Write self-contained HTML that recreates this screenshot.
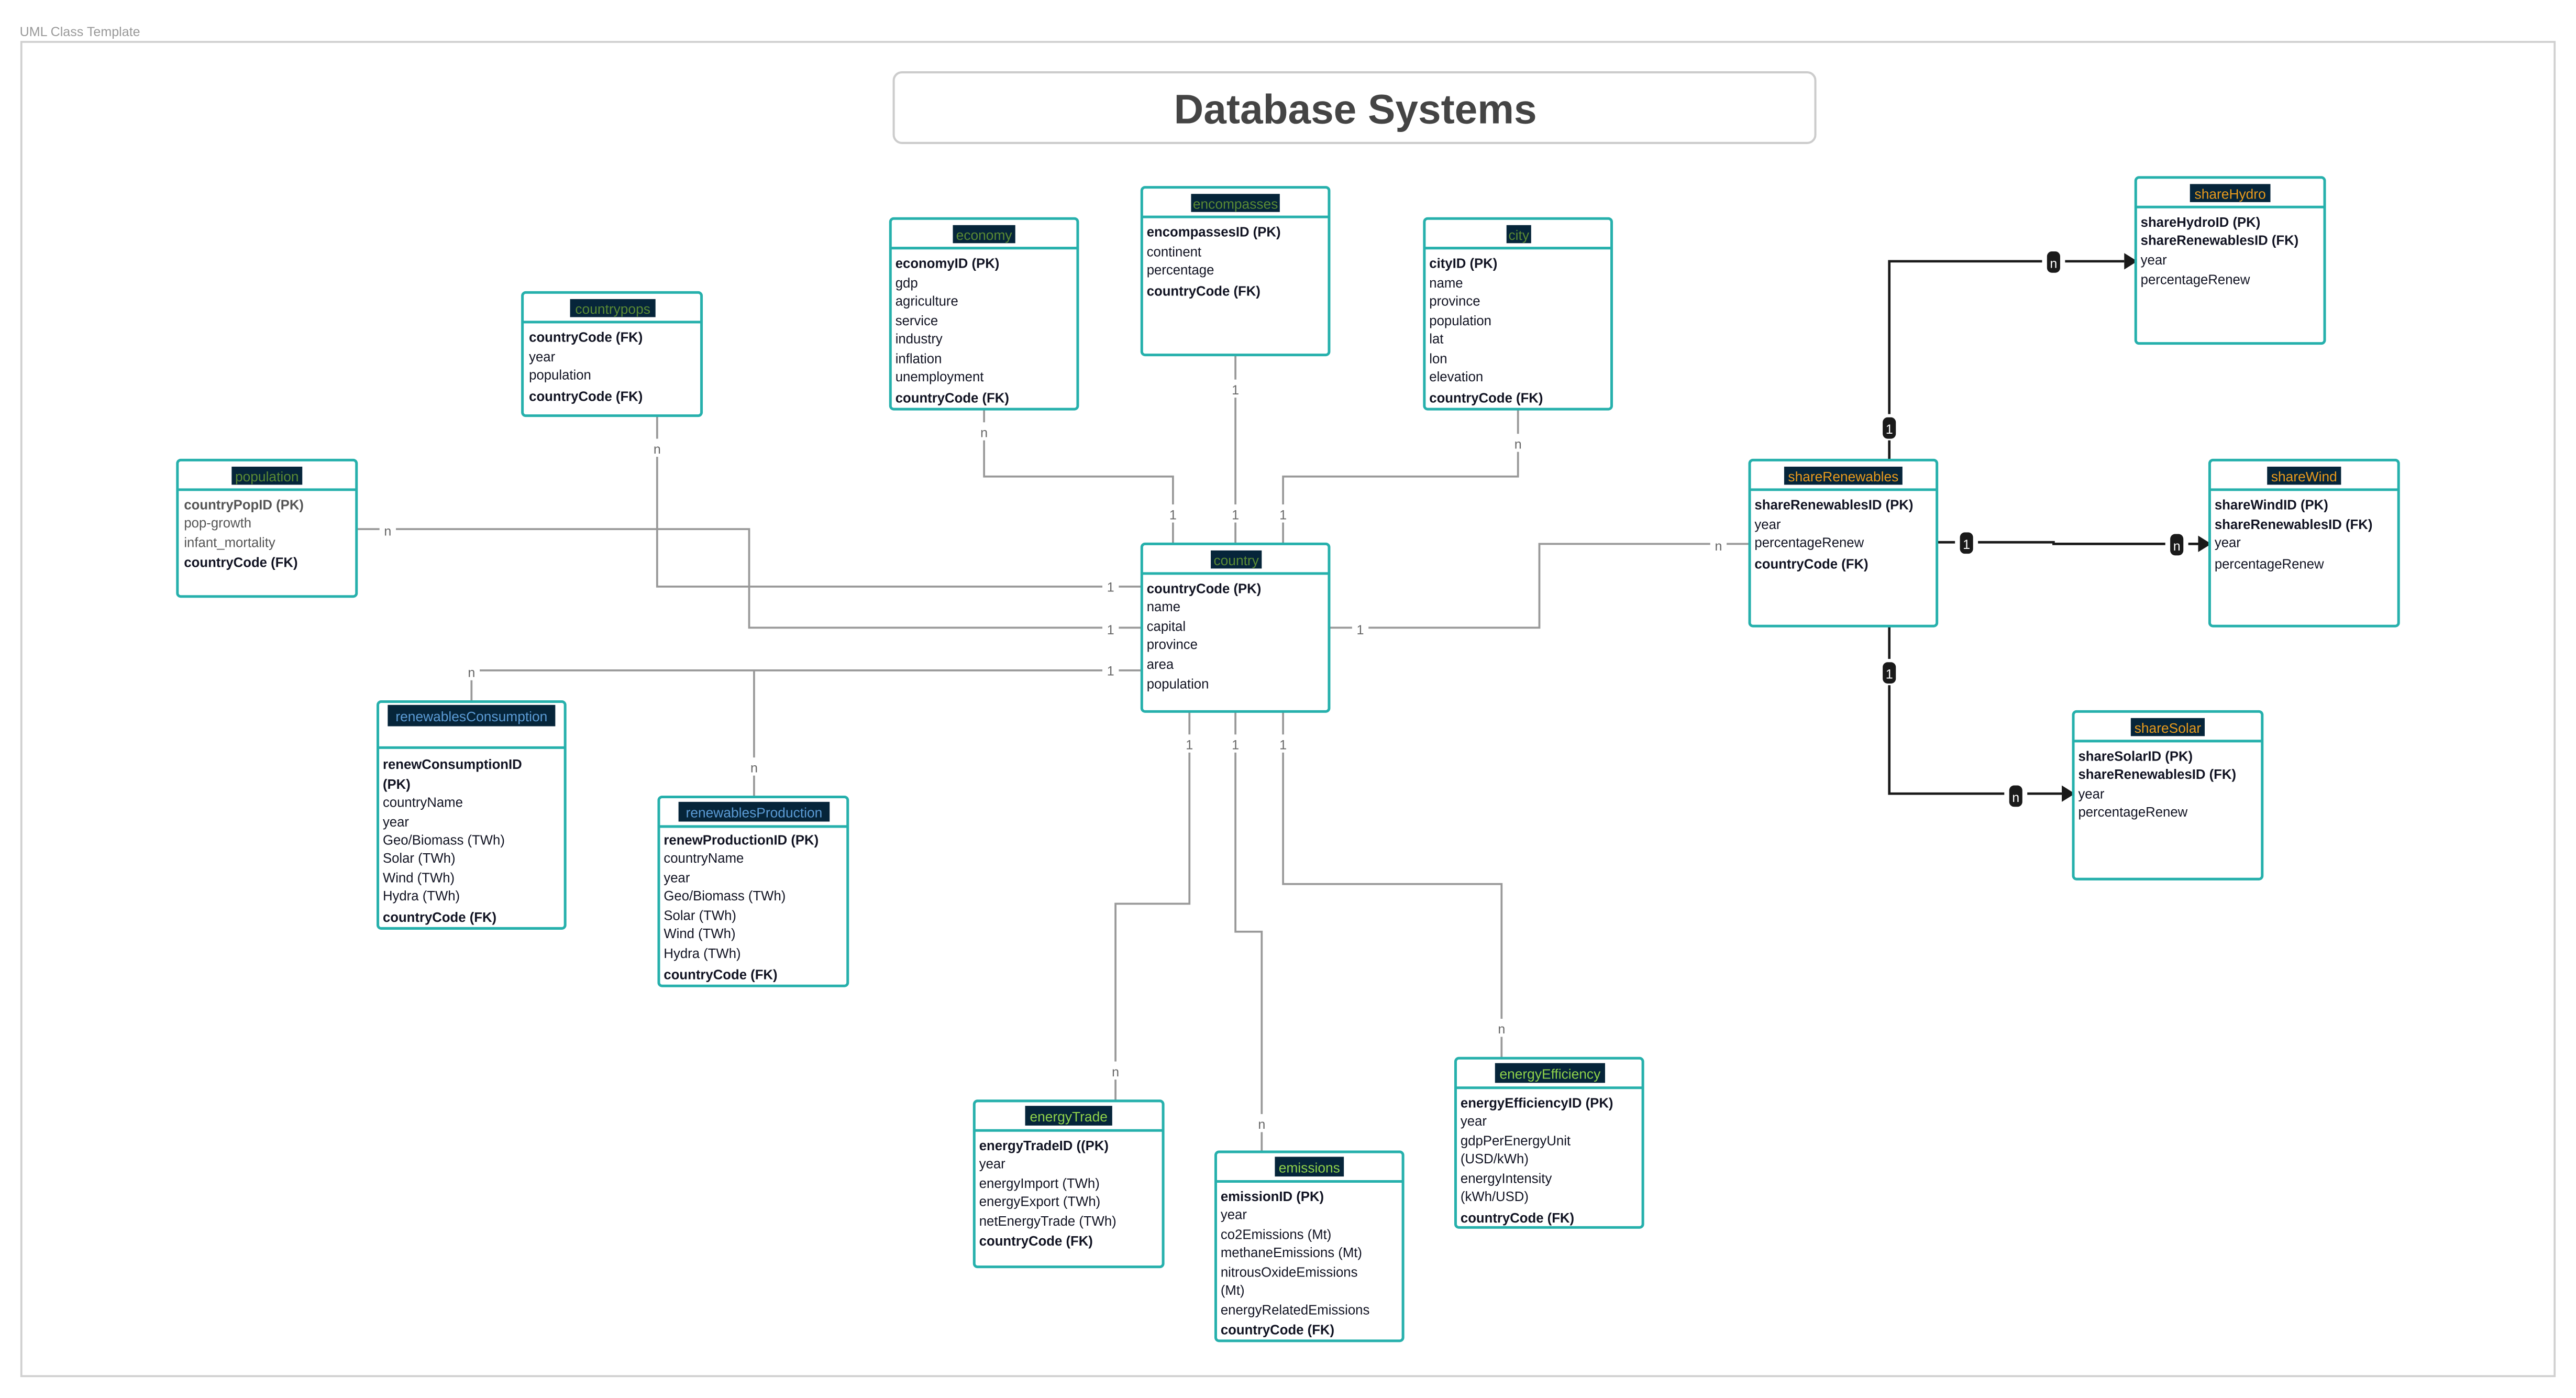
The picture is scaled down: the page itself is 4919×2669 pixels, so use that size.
<!DOCTYPE html>
<html><head><meta charset="utf-8"><style>
html,body{margin:0;padding:0;background:#fff;}
svg{display:block;}
text{font-family:"Liberation Sans",sans-serif;}
.f{font-size:8.2px;fill:#111322;}
.b{font-weight:bold;}
.g{fill:#555;}
.h{font-size:8.4px;text-anchor:middle;}
.box{fill:#fff;stroke:#26b0ac;stroke-width:1.6;}
.hl{stroke:#26b0ac;stroke-width:1.6;}
.c{fill:none;stroke:#999;stroke-width:1.2;}
.k{fill:none;stroke:#1a1a1a;stroke-width:1.5;}
.lb{font-size:8px;fill:#666;text-anchor:middle;}
.bd{font-size:8px;fill:#fff;text-anchor:middle;}
</style></head><body>
<svg width="4919" height="2669" viewBox="0 0 1568 850.8" preserveAspectRatio="none" xmlns="http://www.w3.org/2000/svg">
<rect x="0" y="0" width="1568" height="851" fill="#fff"/>
<text x="12" y="22" style="font-size:8px;fill:#999">UML Class Template</text>
<rect x="13" y="25.5" width="1542" height="812" fill="none" stroke="#d0d0d0" stroke-width="1.2"/>
<rect x="544" y="44" width="561" height="43" rx="5" fill="#fff" stroke="#ccc" stroke-width="1.3"/>
<text x="825" y="75" text-anchor="middle" style="font-size:25px;font-weight:bold;fill:#444">Database Systems</text>

<!-- gray connectors -->
<polyline class="c" points="400,253 400,357 695,357"/>
<polyline class="c" points="217,322 456,322 456,382 695,382"/>
<polyline class="c" points="287,427 287,408 695,408"/>
<polyline class="c" points="459,485 459,408"/>
<polyline class="c" points="599,249 599,290 714,290 714,331"/>
<polyline class="c" points="752,216 752,331"/>
<polyline class="c" points="924,249 924,290 781,290 781,331"/>
<polyline class="c" points="724,433 724,550 679,550 679,670"/>
<polyline class="c" points="752,433 752,567 768,567 768,701"/>
<polyline class="c" points="781,433 781,538 914,538 914,644"/>
<polyline class="c" points="809,382 937,382 937,331 1065,331"/>
<g fill="#fff">
<rect x="395" y="267" width="10" height="11"/><rect x="671" y="351" width="10" height="11"/>
<rect x="231" y="317" width="10" height="11"/><rect x="671" y="377" width="10" height="11"/>
<rect x="282" y="403" width="10" height="11"/><rect x="671" y="402" width="10" height="11"/>
<rect x="454" y="461" width="10" height="11"/>
<rect x="594" y="257" width="10" height="11"/><rect x="709" y="307" width="10" height="11"/>
<rect x="747" y="231" width="10" height="11"/><rect x="747" y="307" width="10" height="11"/>
<rect x="919" y="264" width="10" height="11"/><rect x="776" y="307" width="10" height="11"/>
<rect x="719" y="447" width="10" height="11"/><rect x="674" y="646" width="10" height="11"/>
<rect x="747" y="447" width="10" height="11"/><rect x="763" y="678" width="10" height="11"/>
<rect x="776" y="447" width="10" height="11"/><rect x="909" y="620" width="10" height="11"/>
<rect x="823" y="377" width="10" height="11"/><rect x="1041" y="326" width="10" height="11"/>
</g>
<g class="lb">
<text x="400" y="276">n</text><text x="676" y="360">1</text>
<text x="236" y="326">n</text><text x="676" y="386">1</text>
<text x="287" y="412">n</text><text x="676" y="411">1</text>
<text x="459" y="470">n</text>
<text x="599" y="266">n</text><text x="714" y="316">1</text>
<text x="752" y="240">1</text><text x="752" y="316">1</text>
<text x="924" y="273">n</text><text x="781" y="316">1</text>
<text x="724" y="456">1</text><text x="679" y="655">n</text>
<text x="752" y="456">1</text><text x="768" y="687">n</text>
<text x="781" y="456">1</text><text x="914" y="629">n</text>
<text x="828" y="386">1</text><text x="1046" y="335">n</text>
</g>

<!-- black connectors -->
<polyline class="k" points="1150,280 1150,159 1293,159"/>
<polygon points="1293,154 1301,159 1293,164" fill="#1a1a1a"/>
<polyline class="k" points="1179,330 1250,330 1250,331 1338,331"/>
<polygon points="1338,326 1346,331 1338,336" fill="#1a1a1a"/>
<polyline class="k" points="1150,381 1150,483 1255,483"/>
<polygon points="1255,478 1263,483 1255,488" fill="#1a1a1a"/>
<g fill="#fff">
<rect x="1143" y="252" width="14" height="16"/><rect x="1243" y="151" width="14" height="16"/>
<rect x="1190" y="322" width="14" height="16"/><rect x="1318" y="323" width="14" height="16"/>
<rect x="1143" y="401" width="14" height="16"/><rect x="1220" y="476" width="14" height="16"/>
</g>
<g fill="#1a1a1a">
<rect x="1146" y="254" width="8" height="13" rx="3"/><rect x="1246" y="153" width="8" height="13" rx="3"/>
<rect x="1193" y="324" width="8" height="13" rx="3"/><rect x="1321" y="325" width="8" height="13" rx="3"/>
<rect x="1146" y="403" width="8" height="13" rx="3"/><rect x="1223" y="478" width="8" height="13" rx="3"/>
</g>
<g class="bd">
<text x="1150" y="264">1</text><text x="1250" y="163">n</text>
<text x="1197" y="334">1</text><text x="1325" y="335">n</text>
<text x="1150" y="413">1</text><text x="1227" y="488">n</text>
</g>

<!-- population -->
<rect class="box" x="108" y="280" width="109" height="83" rx="2"/>
<line class="hl" x1="108" y1="298" x2="217" y2="298"/>
<rect x="141" y="284" width="43" height="11" fill="#06253a"/>
<text class="h" x="162.5" y="293" fill="#5a8a34">population</text>
<text class="f b g" x="112" y="310">countryPopID (PK)</text>
<text class="f g" x="112" y="321">pop-growth</text>
<text class="f g" x="112" y="333">infant_mortality</text>
<text class="f b" x="112" y="345">countryCode (FK)</text>

<!-- countrypops -->
<rect class="box" x="318" y="178" width="109" height="75" rx="2"/>
<line class="hl" x1="318" y1="196" x2="427" y2="196"/>
<rect x="347" y="182" width="52" height="11" fill="#06253a"/>
<text class="h" x="373" y="191" fill="#5a8a34">countrypops</text>
<text class="f b" x="322" y="208">countryCode (FK)</text>
<text class="f" x="322" y="220">year</text>
<text class="f" x="322" y="231">population</text>
<text class="f b" x="322" y="244">countryCode (FK)</text>

<!-- economy -->
<rect class="box" x="542" y="133" width="114" height="116" rx="2"/>
<line class="hl" x1="542" y1="151" x2="656" y2="151"/>
<rect x="580" y="137" width="38" height="11" fill="#06253a"/>
<text class="h" x="599" y="146" fill="#5a8a34">economy</text>
<text class="f b" x="545" y="163">economyID (PK)</text>
<text class="f" x="545" y="175">gdp</text>
<text class="f" x="545" y="186">agriculture</text>
<text class="f" x="545" y="198">service</text>
<text class="f" x="545" y="209">industry</text>
<text class="f" x="545" y="221">inflation</text>
<text class="f" x="545" y="232">unemployment</text>
<text class="f b" x="545" y="245">countryCode (FK)</text>

<!-- encompasses -->
<rect class="box" x="695" y="114" width="114" height="102" rx="2"/>
<line class="hl" x1="695" y1="132" x2="809" y2="132"/>
<rect x="725" y="118" width="54" height="11" fill="#06253a"/>
<text class="h" x="752" y="127" fill="#5a8a34">encompasses</text>
<text class="f b" x="698" y="144">encompassesID (PK)</text>
<text class="f" x="698" y="156">continent</text>
<text class="f" x="698" y="167">percentage</text>
<text class="f b" x="698" y="180">countryCode (FK)</text>

<!-- city -->
<rect class="box" x="867" y="133" width="114" height="116" rx="2"/>
<line class="hl" x1="867" y1="151" x2="981" y2="151"/>
<rect x="917" y="137" width="15" height="11" fill="#06253a"/>
<text class="h" x="924.5" y="146" fill="#5a8a34">city</text>
<text class="f b" x="870" y="163">cityID (PK)</text>
<text class="f" x="870" y="175">name</text>
<text class="f" x="870" y="186">province</text>
<text class="f" x="870" y="198">population</text>
<text class="f" x="870" y="209">lat</text>
<text class="f" x="870" y="221">lon</text>
<text class="f" x="870" y="232">elevation</text>
<text class="f b" x="870" y="245">countryCode (FK)</text>

<!-- country -->
<rect class="box" x="695" y="331" width="114" height="102" rx="2"/>
<line class="hl" x1="695" y1="349" x2="809" y2="349"/>
<rect x="737" y="335" width="31" height="11" fill="#06253a"/>
<text class="h" x="752.5" y="344" fill="#5a8a34">country</text>
<text class="f b" x="698" y="361">countryCode (PK)</text>
<text class="f" x="698" y="372">name</text>
<text class="f" x="698" y="384">capital</text>
<text class="f" x="698" y="395">province</text>
<text class="f" x="698" y="407">area</text>
<text class="f" x="698" y="419">population</text>

<!-- renewablesConsumption -->
<rect class="box" x="230" y="427" width="114" height="138" rx="2"/>
<line class="hl" x1="230" y1="455" x2="344" y2="455"/>
<rect x="236" y="429" width="102" height="13" fill="#06253a"/>
<text class="h" x="287" y="439" fill="#5b9bd5">renewablesConsumption</text>
<text class="f b" x="233" y="468">renewConsumptionID</text>
<text class="f b" x="233" y="480">(PK)</text>
<text class="f" x="233" y="491">countryName</text>
<text class="f" x="233" y="503">year</text>
<text class="f" x="233" y="514">Geo/Biomass (TWh)</text>
<text class="f" x="233" y="525">Solar (TWh)</text>
<text class="f" x="233" y="537">Wind (TWh)</text>
<text class="f" x="233" y="548">Hydra (TWh)</text>
<text class="f b" x="233" y="561">countryCode (FK)</text>

<!-- renewablesProduction -->
<rect class="box" x="401" y="485" width="115" height="115" rx="2"/>
<line class="hl" x1="401" y1="503" x2="516" y2="503"/>
<rect x="413" y="488" width="92" height="12" fill="#06253a"/>
<text class="h" x="459" y="497.5" fill="#5b9bd5">renewablesProduction</text>
<text class="f b" x="404" y="514">renewProductionID (PK)</text>
<text class="f" x="404" y="525">countryName</text>
<text class="f" x="404" y="537">year</text>
<text class="f" x="404" y="548">Geo/Biomass (TWh)</text>
<text class="f" x="404" y="560">Solar (TWh)</text>
<text class="f" x="404" y="571">Wind (TWh)</text>
<text class="f" x="404" y="583">Hydra (TWh)</text>
<text class="f b" x="404" y="596">countryCode (FK)</text>

<!-- energyTrade -->
<rect class="box" x="593" y="670" width="115" height="101" rx="2"/>
<line class="hl" x1="593" y1="688" x2="708" y2="688"/>
<rect x="624" y="673" width="53" height="12" fill="#06253a"/>
<text class="h" x="650.5" y="682.5" fill="#8ed14a">energyTrade</text>
<text class="f b" x="596" y="700">energyTradeID ((PK)</text>
<text class="f" x="596" y="711">year</text>
<text class="f" x="596" y="723">energyImport (TWh)</text>
<text class="f" x="596" y="734">energyExport (TWh)</text>
<text class="f" x="596" y="746">netEnergyTrade (TWh)</text>
<text class="f b" x="596" y="758">countryCode (FK)</text>

<!-- emissions -->
<rect class="box" x="740" y="701" width="114" height="115" rx="2"/>
<line class="hl" x1="740" y1="719" x2="854" y2="719"/>
<rect x="776" y="704" width="42" height="12" fill="#06253a"/>
<text class="h" x="797" y="713.5" fill="#8ed14a">emissions</text>
<text class="f b" x="743" y="731">emissionID (PK)</text>
<text class="f" x="743" y="742">year</text>
<text class="f" x="743" y="754">co2Emissions (Mt)</text>
<text class="f" x="743" y="765">methaneEmissions (Mt)</text>
<text class="f" x="743" y="777">nitrousOxideEmissions</text>
<text class="f" x="743" y="788">(Mt)</text>
<text class="f" x="743" y="800">energyRelatedEmissions</text>
<text class="f b" x="743" y="812">countryCode (FK)</text>

<!-- energyEfficiency -->
<rect class="box" x="886" y="644" width="114" height="103" rx="2"/>
<line class="hl" x1="886" y1="662" x2="1000" y2="662"/>
<rect x="910" y="647" width="67" height="12" fill="#06253a"/>
<text class="h" x="943.5" y="656.5" fill="#8ed14a">energyEfficiency</text>
<text class="f b" x="889" y="674">energyEfficiencyID (PK)</text>
<text class="f" x="889" y="685">year</text>
<text class="f" x="889" y="697">gdpPerEnergyUnit</text>
<text class="f" x="889" y="708">(USD/kWh)</text>
<text class="f" x="889" y="720">energyIntensity</text>
<text class="f" x="889" y="731">(kWh/USD)</text>
<text class="f b" x="889" y="744">countryCode (FK)</text>

<!-- shareRenewables -->
<rect class="box" x="1065" y="280" width="114" height="101" rx="2"/>
<line class="hl" x1="1065" y1="298" x2="1179" y2="298"/>
<rect x="1086" y="284" width="72" height="11" fill="#06253a"/>
<text class="h" x="1122" y="293" fill="#e89a1c">shareRenewables</text>
<text class="f b" x="1068" y="310">shareRenewablesID (PK)</text>
<text class="f" x="1068" y="322">year</text>
<text class="f" x="1068" y="333">percentageRenew</text>
<text class="f b" x="1068" y="346">countryCode (FK)</text>

<!-- shareHydro -->
<rect class="box" x="1300" y="108" width="115" height="101" rx="2"/>
<line class="hl" x1="1300" y1="126" x2="1415" y2="126"/>
<rect x="1333" y="112" width="49" height="11" fill="#06253a"/>
<text class="h" x="1357.5" y="121" fill="#e89a1c">shareHydro</text>
<text class="f b" x="1303" y="138">shareHydroID (PK)</text>
<text class="f b" x="1303" y="149">shareRenewablesID (FK)</text>
<text class="f" x="1303" y="161">year</text>
<text class="f" x="1303" y="173">percentageRenew</text>

<!-- shareWind -->
<rect class="box" x="1345" y="280" width="115" height="101" rx="2"/>
<line class="hl" x1="1345" y1="298" x2="1460" y2="298"/>
<rect x="1380" y="284" width="45" height="11" fill="#06253a"/>
<text class="h" x="1402.5" y="293" fill="#e89a1c">shareWind</text>
<text class="f b" x="1348" y="310">shareWindID (PK)</text>
<text class="f b" x="1348" y="322">shareRenewablesID (FK)</text>
<text class="f" x="1348" y="333">year</text>
<text class="f" x="1348" y="346">percentageRenew</text>

<!-- shareSolar -->
<rect class="box" x="1262" y="433" width="115" height="102" rx="2"/>
<line class="hl" x1="1262" y1="451" x2="1377" y2="451"/>
<rect x="1297" y="437" width="45" height="11" fill="#06253a"/>
<text class="h" x="1319.5" y="446" fill="#e89a1c">shareSolar</text>
<text class="f b" x="1265" y="463">shareSolarID (PK)</text>
<text class="f b" x="1265" y="474">shareRenewablesID (FK)</text>
<text class="f" x="1265" y="486">year</text>
<text class="f" x="1265" y="497">percentageRenew</text>
</svg>
</body></html>
